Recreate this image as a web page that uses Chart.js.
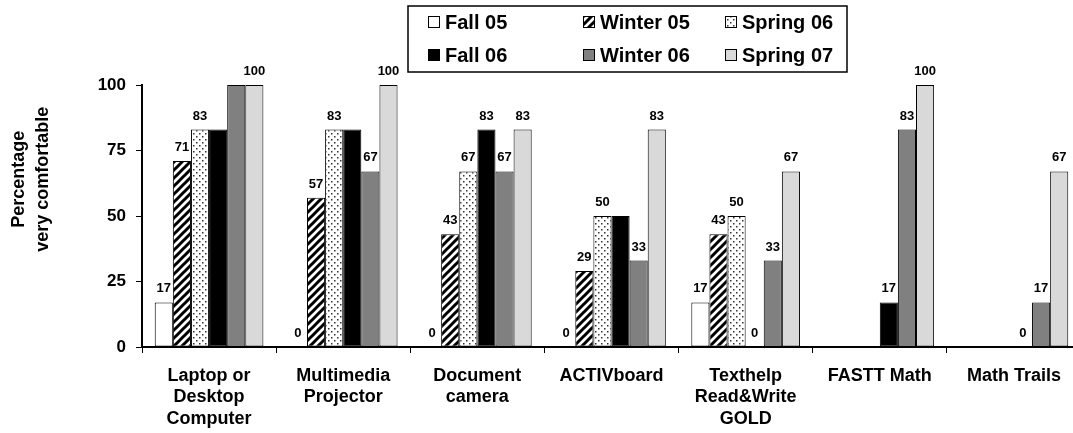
<!DOCTYPE html>
<html>
<head>
<meta charset="utf-8">
<script src="https://cdn.jsdelivr.net/npm/chart.js@4.4.1/dist/chart.umd.min.js"></script>
<style>
  html, body { margin: 0; padding: 0; background: #fff; overflow: hidden; }
</style>
</head>
<body>
<canvas id="chart" width="1083" height="433"></canvas>
<script>
const categories = [
    ['Laptop or', 'Desktop', 'Computer'],
    ['Multimedia', 'Projector'],
    ['Document', 'camera'],
    'ACTIVboard',
    ['Texthelp', 'Read&Write', 'GOLD'],
    'FASTT Math',
    'Math Trails'
];
const seriesNames = ['Fall 05', 'Winter 05', 'Spring 06', 'Fall 06', 'Winter 06', 'Spring 07'];
const fall05   = [17, 0, 0, 0, 17, null, null];
const winter05 = [71, 57, 43, 29, 43, null, null];
const spring06 = [83, 83, 67, 50, 50, null, null];
const fall06   = [83, 83, 83, 50, 0, 17, 0];
const winter06 = [100, 67, 67, 33, 33, 83, 17];
const spring07 = [100, 100, 83, 83, 67, 100, 67];
const yTicks = [0, 25, 50, 75, 100];
// value labels left out where two bars share the same height [series, category]
const unlabeled = [[3, 0], [4, 0], [3, 1], [3, 3]];

const FONT = 'Arial, "Liberation Sans", sans-serif';

// hatch fills
function makePattern(kind) {
    const c = document.createElement('canvas');
    const g = c.getContext('2d');
    if (kind === 'stripes') {
        c.width = 8; c.height = 8;
        g.fillStyle = '#fff';
        g.fillRect(0, 0, 8, 8);
        g.strokeStyle = '#000';
        g.lineWidth = 3;
        g.beginPath();
        g.moveTo(-2, 10); g.lineTo(10, -2);
        g.moveTo(-6, 6); g.lineTo(6, -6);
        g.moveTo(2, 14); g.lineTo(14, 2);
        g.stroke();
    } else {
        c.width = 6; c.height = 6;
        g.fillStyle = '#fff';
        g.fillRect(0, 0, 6, 6);
        g.fillStyle = '#333';
        g.fillRect(1, 1, 1.5, 1.5);
        g.fillRect(4, 4, 1.5, 1.5);
    }
    return g.createPattern(c, 'repeat');
}

const fills = ['#ffffff', makePattern('stripes'), makePattern('dots'), '#000000', '#808080', '#d9d9d9'];
const seriesData = [fall05, winter05, spring06, fall06, winter06, spring07];

const valueLabels = {
    id: 'valueLabels',
    afterDatasetsDraw(chart) {
        const ctx = chart.ctx;
        ctx.save();
        ctx.font = 'bold 13px ' + FONT;
        ctx.fillStyle = '#000';
        ctx.textAlign = 'center';
        ctx.textBaseline = 'alphabetic';
        chart.data.datasets.forEach((ds, si) => {
            chart.getDatasetMeta(si).data.forEach((bar, ci) => {
                const v = ds.data[ci];
                if (v === null || unlabeled.some(([s, c]) => s === si && c === ci)) return;
                ctx.fillText(String(v), bar.x, bar.y - 10);
            });
        });
        ctx.restore();
    }
};

// boxed legend, three per row
const boxLegend = {
    id: 'boxLegend',
    afterDraw(chart) {
        const ctx = chart.ctx;
        ctx.save();
        ctx.strokeStyle = '#000';
        ctx.lineWidth = 1.5;
        ctx.strokeRect(408, 6, 439, 66);
        const colX = [428, 583, 725];
        const rowY = [22, 55];
        ctx.font = 'bold 20px ' + FONT;
        ctx.textBaseline = 'middle';
        chart.data.datasets.forEach((ds, i) => {
            const x = colX[i % 3], y = rowY[Math.floor(i / 3)];
            ctx.fillStyle = ds.backgroundColor;
            ctx.fillRect(x, y - 6, 12, 12);
            ctx.lineWidth = 1;
            ctx.strokeRect(x + 0.5, y - 5.5, 11, 11);
            ctx.fillStyle = '#000';
            ctx.fillText(ds.label, x + 17, y + 1);
        });
        ctx.restore();
    }
};

const yTitle = {
    id: 'yTitle',
    afterDraw(chart) {
        const ctx = chart.ctx;
        const a = chart.chartArea;
        ctx.save();
        ctx.translate(31, a.top + (a.bottom - a.top) * 0.36);
        ctx.rotate(-Math.PI / 2);
        ctx.font = 'bold 18px ' + FONT;
        ctx.fillStyle = '#000';
        ctx.textAlign = 'center';
        ctx.textBaseline = 'middle';
        ctx.fillText('Percentage', 0, -12);
        ctx.fillText('very comfortable', 0, 12);
        ctx.restore();
    }
};

new Chart(document.getElementById('chart'), {
    type: 'bar',
    data: {
        labels: categories,
        datasets: seriesNames.map((name, i) => ({
            label: name,
            data: seriesData[i],
            backgroundColor: fills[i],
            borderColor: '#000',
            borderWidth: 1,
            borderSkipped: false,
            barPercentage: 1,
            categoryPercentage: 0.81
        }))
    },
    options: {
        responsive: false,
        animation: false,
        layout: { padding: { top: 85, right: 2, left: 0, bottom: 0 } },
        plugins: {
            legend: { display: false },
            tooltip: { enabled: false }
        },
        scales: {
            x: {
                grid: { drawOnChartArea: false, drawTicks: true, tickLength: 6, color: '#000', offset: true },
                border: { color: '#000', width: 2 },
                ticks: {
                    color: '#000',
                    font: { family: FONT, size: 18, weight: 'bold' },
                    padding: 12,
                    maxRotation: 0,
                    autoSkip: false
                },
                afterFit: s => { s.height = 86; }
            },
            y: {
                min: 0,
                max: 100,
                grid: { drawOnChartArea: false, drawTicks: true, tickLength: 6, color: '#000' },
                border: { color: '#000', width: 2 },
                ticks: {
                    color: '#000',
                    font: { family: FONT, size: 17, weight: 'bold' },
                    padding: 10
                },
                afterBuildTicks: s => { s.ticks = yTicks.map(v => ({ value: v })); },
                afterFit: s => { s.width = 142; }
            }
        }
    },
    plugins: [valueLabels, boxLegend, yTitle]
});
</script>
</body>
</html>
